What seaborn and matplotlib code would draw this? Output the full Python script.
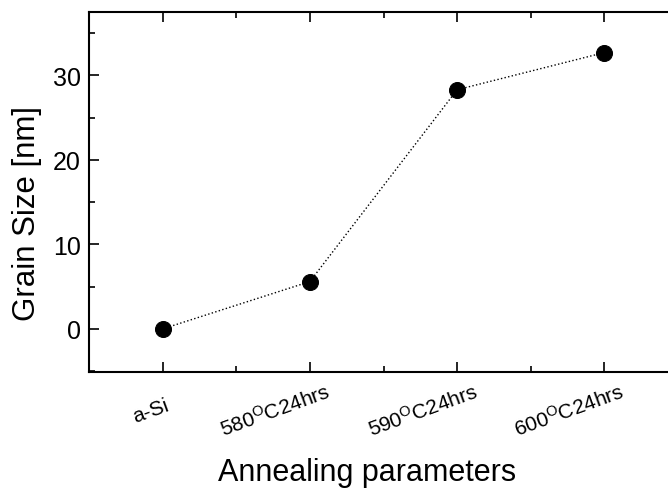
import matplotlib
matplotlib.use("Agg")
import matplotlib.pyplot as plt
import matplotlib.transforms as mtransforms
import seaborn as sns
import pandas as pd
from matplotlib.ticker import MultipleLocator

categories = ["a-Si", r"580$^{\mathrm{O}}$C24hrs", r"590$^{\mathrm{O}}$C24hrs", r"600$^{\mathrm{O}}$C24hrs"]
grain_size = [0.0, 5.6, 28.3, 32.7]
positions = list(range(len(categories)))

sns.set_theme(style="ticks")
plt.rcParams['font.family'] = ['Liberation Sans', 'DejaVu Sans']
plt.rcParams['mathtext.fontset'] = 'custom'
plt.rcParams['mathtext.rm'] = 'Liberation Sans'
plt.rcParams['mathtext.it'] = 'Liberation Sans:italic'
for k in ['text.color', 'axes.labelcolor', 'xtick.color', 'ytick.color', 'axes.edgecolor']:
    plt.rcParams[k] = 'black'

df = pd.DataFrame({"pos": positions, "size": grain_size})

fig = plt.figure(figsize=(6.68, 4.89), dpi=100)
ax = fig.add_axes([89/668, 116/489, 589/668, 360/489])

sns.lineplot(data=df, x="pos", y="size", ax=ax, color="black", linestyle=":",
             linewidth=1.0, marker="o", markersize=11.5, markeredgecolor="black",
             markerfacecolor="black")

ax.set_xlim(-0.5, 3.5)
ax.set_ylim(-5.1, 37.5)
ax.set_xticks(positions)
ax.set_xticklabels([])
ax.xaxis.set_minor_locator(MultipleLocator(0.5))
ax.yaxis.set_major_locator(MultipleLocator(10))
ax.yaxis.set_minor_locator(MultipleLocator(5))
ax.tick_params(axis="both", which="both", direction="in", top=True, right=True, color="black")
ax.tick_params(axis="both", which="major", length=7, width=1.2)
ax.tick_params(axis="both", which="minor", length=4, width=1.2)
ax.tick_params(axis="y", labelsize=18, pad=6)
for s in ax.spines.values():
    s.set_color("black")
    s.set_linewidth(1.5)

# rotated category labels, centred slightly left of their tick
labels = []
for p, c in zip(positions, categories):
    t = ax.text(p, -0.1056, c, transform=ax.get_xaxis_transform(), rotation=20,
                ha="center", va="center", fontsize=15, color="black")
    labels.append(t)
fig.canvas.draw()
renderer = fig.canvas.get_renderer()
for t in labels:
    w = t.get_window_extent(renderer).width
    off = mtransforms.ScaledTranslation(-0.3 * w / fig.dpi, 0, fig.dpi_scale_trans)
    t.set_transform(ax.get_xaxis_transform() + off)

ax.set_xlabel("Annealing parameters", fontsize=22)
ax.xaxis.set_label_coords(0.472, -0.235)
ax.set_ylabel("Grain Size [nm]", fontsize=22.5)
ax.yaxis.set_label_coords(-0.08, 0.442)

fig.savefig("out.png", dpi=100)
